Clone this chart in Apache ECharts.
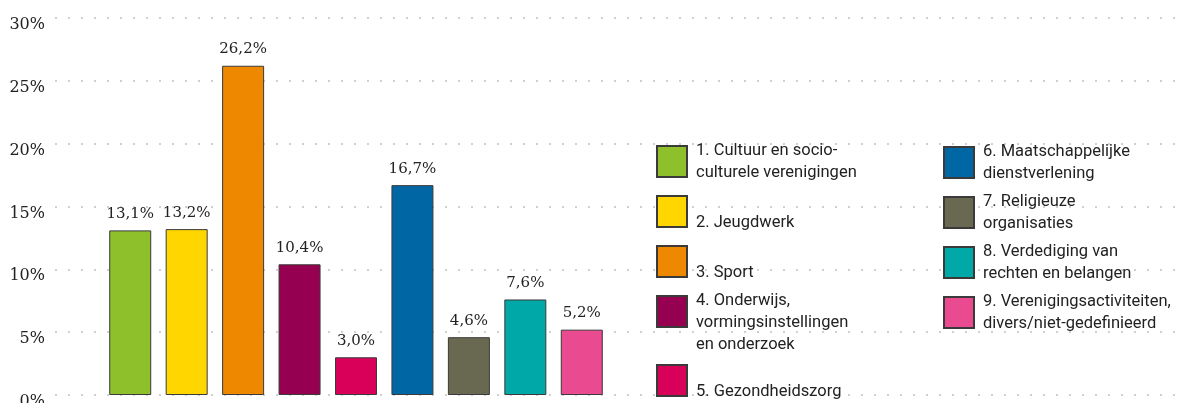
<!DOCTYPE html>
<html>
<head>
<meta charset="utf-8">
<script src="https://cdn.jsdelivr.net/npm/echarts@6/dist/echarts.min.js"></script>
<style>
  html, body { margin: 0; padding: 0; background: #fff; }
  #chart { width: 1194px; height: 403px; }
</style>
</head>
<body>
<div id="chart"></div>
<script>
// sectors (legend text, line breaks as in the picture)
var categories = [
  '1. Cultuur en socio-\nculturele verenigingen',
  '\n2. Jeugdwerk',
  '\n3. Sport',
  '\n4. Onderwijs,\nvormingsinstellingen\nen onderzoek',
  '\n5. Gezondheidszorg',
  '6. Maatschappelijke\ndienstverlening',
  '7. Religieuze\norganisaties',
  '8. Verdediging van\nrechten en belangen',
  '9. Verenigingsactiviteiten,\ndivers/niet-gedefinieerd'
];
var shares = [13.1, 13.2, 26.2, 10.4, 3.0, 16.7, 4.6, 7.6, 5.2];
var colors = ['#8dc02a', '#ffd600', '#ee8800', '#960050', '#d9005a', '#0067a4', '#696851', '#00a8a8', '#ea4a8f'];
var yTicks = [0, 5, 10, 15, 20, 25, 30];

// legend placement (layout only)
var legendPos = [
  { left: 656, top: 139.5 }, { left: 656, top: 189.5 }, { left: 656, top: 239.5 },
  { left: 656, top: 267.5 }, { left: 656, top: 358.5 },
  { left: 943, top: 140.5 }, { left: 943, top: 190.5 }, { left: 943, top: 240.5 },
  { left: 943, top: 290.5 }
];

var serifFont = '"DejaVu Serif", serif';

var chart = echarts.init(document.getElementById('chart'));

var series = categories.map(function (name, i) {
  return {
    name: name,
    type: 'bar',
    stack: 'all',
    xAxisIndex: 1,
    yAxisIndex: 1,
    barWidth: 42,
    itemStyle: {
      color: colors[i],
      borderColor: '#3a3a3a',
      borderWidth: 1
    },
    label: {
      show: true,
      position: 'top',
      distance: 9,
      fontFamily: serifFont,
      fontSize: 15,
      color: '#222',
      formatter: function (p) {
        return p.value.toFixed(1).replace('.', ',') + '%';
      }
    },
    data: shares.map(function (v, j) { return j === i ? v : '-'; })
  };
});

var legends = categories.map(function (name, i) {
  return {
    left: legendPos[i].left,
    top: legendPos[i].top,
    orient: 'vertical',
    padding: 0,
    selectedMode: false,
    icon: 'rect',
    itemWidth: 30,
    itemHeight: 31,
    data: [name],
    textStyle: {
      fontFamily: 'Roboto, sans-serif',
      fontSize: 16.5,
      lineHeight: 22,
      color: '#222',
      padding: [0, 0, 0, 4]
    }
  };
});

chart.setOption({
  animation: false,
  grid: [
    { left: 55, right: 9, top: 18, bottom: 8, outerBoundsMode: 'none' },
    { left: 102, width: 508, top: 18, bottom: 8, outerBoundsMode: 'none' }
  ],
  legend: legends,
  xAxis: [
    { type: 'value', gridIndex: 0, min: 0, max: 1, show: false },
    { type: 'category', gridIndex: 1, show: false, data: categories }
  ],
  yAxis: [
    {
      type: 'value',
      gridIndex: 0,
      min: yTicks[0],
      max: yTicks[yTicks.length - 1],
      interval: 5,
      axisLine: { show: false },
      axisTick: { show: false },
      axisLabel: {
        margin: 10,
        fontFamily: serifFont,
        fontSize: 16,
        color: '#222',
        verticalAlign: 'top',
        lineHeight: 14,
        formatter: '{value}%'
      },
      splitLine: {
        show: true,
        lineStyle: { color: '#d0d0d0', width: 2, type: [2, 11] }
      }
    },
    {
      type: 'value',
      gridIndex: 1,
      min: yTicks[0],
      max: yTicks[yTicks.length - 1],
      interval: 5,
      show: false,
      splitLine: { show: false }
    }
  ],
  series: series
});
</script>
</body>
</html>
